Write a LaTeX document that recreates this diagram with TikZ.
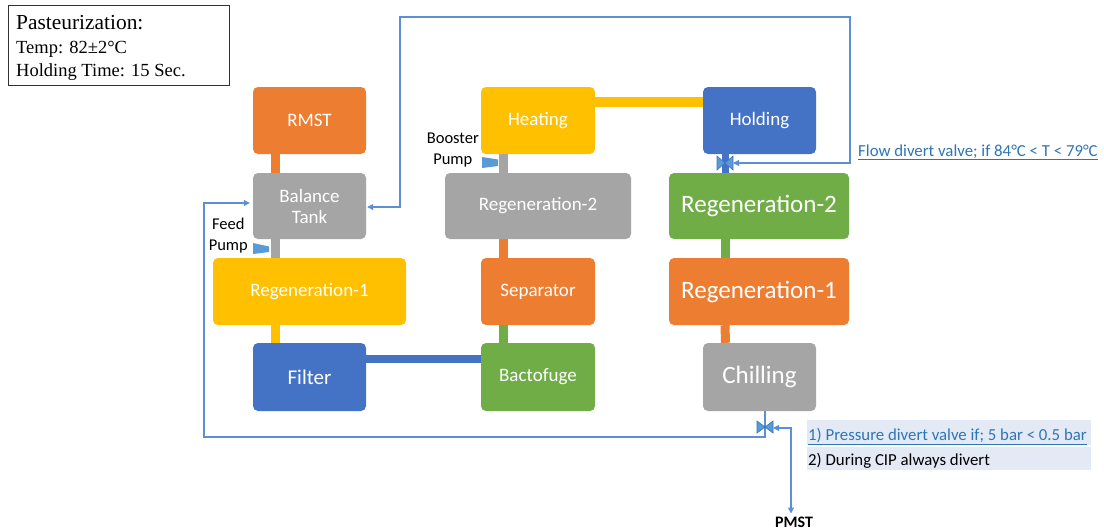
\documentclass[tikz,border=0pt]{standalone}
\usepackage{fontspec}
\setmainfont{Liberation Serif}
\newfontfamily\calib{Carlito}
\usetikzlibrary{arrows.meta,calc}
\definecolor{cOrange}{HTML}{ED7D31}
\definecolor{cGray}{HTML}{A5A5A5}
\definecolor{cYellow}{HTML}{FFC000}
\definecolor{cBlue}{HTML}{4472C4}
\definecolor{cGreen}{HTML}{70AD47}
\definecolor{lineBlue}{HTML}{5B8FD6}
\definecolor{pumpBlue}{HTML}{5B9BD5}
\definecolor{linkBlue}{HTML}{2E75B6}
\definecolor{noteBg}{HTML}{E3EAF5}
\tikzset{
  box/.style={rounded corners=5pt, text=white, align=center, inner sep=0pt,
    font=\calib\fontsize{19}{21}\selectfont},
  bigtxt/.style={font=\calib\fontsize{25}{28}\selectfont},
  pipe/.style={line width=9pt},
  flowboth/.style={draw=lineBlue, line width=1.1pt,
    {Triangle[length=6pt,width=6pt]}-{Triangle[length=6pt,width=6pt]}},
  flowone/.style={draw=lineBlue, line width=1.1pt, -{Triangle[length=6pt,width=6pt]}},
  lbl/.style={font=\calib\fontsize{16.5}{21}\selectfont, align=center, inner sep=0pt},
  note/.style={font=\calib\fontsize{16.8}{19}\selectfont, anchor=base west, inner sep=0pt},
}
\begin{document}
\begin{tikzpicture}[x=1pt,y=-1pt]
\useasboundingbox[fill=white] (0,0) rectangle (1104,531);

% info box
\node[draw=black!80, line width=0.8pt, minimum width=221pt, minimum height=80pt, anchor=north west, inner sep=0pt] (info) at (8,5) {};
\node[anchor=base west, inner sep=0pt, font=\fontsize{21.4}{23}\selectfont] (t1) at (16,29) {Pasteurization:};
\node[anchor=base west, inner sep=0pt, font=\fontsize{18.5}{20}\selectfont] (t2) at (16,53) {Temp: 82±2°C};
\node[anchor=base west, inner sep=0pt, font=\fontsize{18.5}{20}\selectfont] (t3) at (16,76) {Holding Time: 15 Sec.};

% boxes
\node[box, fill=cOrange, minimum width=113pt, minimum height=67pt] (rmst) at (309.5,120.5) {RMST};
\node[box, fill=cGray, minimum width=113pt, minimum height=66pt] (bal) at (309.5,206) {Balance\\Tank};
\node[box, fill=cYellow, minimum width=193pt, minimum height=67pt] (reg1L) at (309.5,291.5) {Regeneration-1};
\node[box, fill=cBlue, minimum width=113pt, minimum height=68pt, font=\calib\fontsize{21}{23}\selectfont] (filter) at (309.5,377) {Filter};
\node[box, fill=cGreen, minimum width=114pt, minimum height=68pt] (bacto) at (538,377) {Bactofuge};
\node[box, fill=cOrange, minimum width=114pt, minimum height=67pt] (sep) at (538,291.5) {Separator};
\node[box, fill=cGray, minimum width=186pt, minimum height=66pt] (reg2M) at (538,206) {Regeneration-2};
\node[box, fill=cYellow, minimum width=114pt, minimum height=67pt] (heat) at (538,120.5) {Heating};
\node[box, fill=cBlue, minimum width=113pt, minimum height=67pt] (hold) at (759.5,120.5) {Holding};
\node[box, bigtxt, fill=cGreen, minimum width=180pt, minimum height=66pt] (reg2R) at (759,206) {Regeneration-2};
\node[box, bigtxt, fill=cOrange, minimum width=180pt, minimum height=67pt] (reg1R) at (759,291.5) {Regeneration-1};
\node[box, bigtxt, fill=cGray, minimum width=113pt, minimum height=68pt] (chill) at (759.5,377) {Chilling};

% pipes
\draw[pipe, cOrange] ([xshift=-34.5pt]rmst.south) -- ([xshift=-34.5pt]bal.north);
\draw[pipe, cGray] ([xshift=-34.5pt]bal.south) -- ([xshift=-34.5pt]reg1L.north);
\draw[pipe, cYellow] ([xshift=-34.5pt]reg1L.south) -- ([xshift=-34.5pt]filter.north);
\draw[line width=8pt, cBlue] ([yshift=18pt]filter.east) -- ([yshift=18pt]bacto.west);
\draw[pipe, cGreen] ([xshift=-35pt]sep.south) -- ([xshift=-35pt]bacto.north);
\draw[pipe, cOrange] ([xshift=-35pt]reg2M.south) -- ([xshift=-35pt]sep.north);
\draw[pipe, cGray] ([xshift=-35pt]heat.south) -- ([xshift=-35pt]reg2M.north);
\draw[line width=10pt, cYellow] ([yshift=18.5pt]heat.east) -- ([yshift=18.5pt]hold.west);
\draw[pipe, cGreen] ([xshift=-34pt]reg2R.south) -- ([xshift=-34pt]reg1R.north);
\draw[pipe, cOrange] ([xshift=-34pt]reg1R.south) -- ([xshift=-34pt]chill.north);
\draw[line width=7pt, cBlue] ([xshift=-34.5pt]hold.south) -- ([xshift=-34pt]reg2R.north);

% pumps
\fill[pumpBlue] (253,243) -- (269,246.5) -- (269,252) -- (253,254) -- cycle;
\fill[pumpBlue] (482,157) -- (498,159.5) -- (498,166) -- (482,168) -- cycle;

% valves
\coordinate (v1) at (725,163);
\coordinate (v2) at (765,427);
\fill[pumpBlue, draw=cBlue, line width=0.6pt] (717,156) -- (725,163) -- (717,170) -- cycle;
\fill[pumpBlue, draw=cBlue, line width=0.6pt] (733,156) -- (725,163) -- (733,170) -- cycle;

% labels
\node[lbl, anchor=east] (feed) at (248,236) {Feed\\Pump};
\node[lbl, anchor=east] (boost) at (479,150) {Booster\\Pump};

% return lines
\coordinate (c1) at (765,437);
\coordinate (c2) at (204,437);
\coordinate (c3) at (204,203);
\draw[flowone, shorten >=3pt] ([xshift=5.5pt]chill.south) -- (c1) -- (c2) -- (c3) -- (c3 -| bal.west);

\coordinate (d1) at (850,163);
\coordinate (d2) at (850,17);
\coordinate (d3) at (400,17);
\coordinate (d4) at (400,207);
\draw[flowboth, shorten >=1pt] ($(v1)+(8,0)$) -- (d1) -- (d2) -- (d3) -- (d4) -- (d4 -| bal.east);

\node[font=\calib\bfseries\fontsize{16}{18}\selectfont, inner sep=1pt] (pmst) at (794,522) {PMST};
\coordinate (e1) at (791,428);
\draw[flowboth, shorten >=2pt] ($(v2)+(8,1)$) -- (e1) -- (e1 |- pmst.north);

\fill[pumpBlue, draw=linkBlue, line width=0.6pt] (757,421) -- (765,427) -- (757,433) -- cycle;
\fill[pumpBlue, draw=linkBlue, line width=0.6pt] (773,421) -- (765,427) -- (773,433) -- cycle;

% notes
\node[note, text=linkBlue] (flowtxt) at (858,156) {\underline{Flow divert valve; if 84°C < T < 79°C}};
\fill[noteBg] (807,420) rectangle (1091,445);
\fill[noteBg] (807,446.5) rectangle (1091,470);
\node[note, text=linkBlue] (p1) at (808,440) {\underline{1) Pressure divert valve if; 5 bar < 0.5 bar}};
\node[note, text=black] (p2) at (808,465) {2) During CIP always divert};
\end{tikzpicture}
\end{document}
